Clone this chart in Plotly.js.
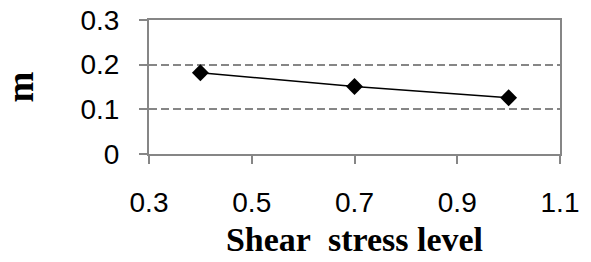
<!DOCTYPE html>
<html>
<head>
<meta charset="utf-8">
<script src="https://cdn.plot.ly/plotly-3.0.1.min.js"></script>
<style>html,body{margin:0;padding:0;background:#fff;}#chart{width:591px;height:262px;}</style>
</head>
<body>
<div id="chart"></div>
<script>
// Data
const shearStressLevel = [0.4, 0.7, 1.0];
const mValues = [0.182, 0.151, 0.126];
const xTickValues = [0.3, 0.5, 0.7, 0.9, 1.1];
const xTickLabels = ["0.3", "0.5", "0.7", "0.9", "1.1"];
const yTickValues = [0, 0.1, 0.2, 0.3];
const yTickLabels = ["0", "0.1", "0.2", "0.3"];
const xTitle = "Shear\u00a0\u00a0stress level";
const yTitle = "m";

const axisGray = "#868686";
const tickFont = {family: "Liberation Sans, Arial, sans-serif", size: 28, color: "#000"};
const titleFont = {family: "Liberation Serif, Times New Roman, serif", size: 34, color: "#000", weight: "bold"};

const trace = {
  x: shearStressLevel,
  y: mValues,
  type: "scatter",
  mode: "lines+markers",
  line: {color: "#000", width: 1.5},
  marker: {symbol: "diamond", size: 13, color: "#000"},
  showlegend: false,
  hoverinfo: "none"
};

const layout = {
  width: 591,
  height: 262,
  margin: {l: 149, r: 31, t: 20, b: 108},
  paper_bgcolor: "#fff",
  plot_bgcolor: "#fff",
  showlegend: false,
  xaxis: {
    range: [0.3, 1.1],
    tickvals: xTickValues,
    ticktext: xTickLabels,
    showgrid: false,
    zeroline: false,
    showline: true,
    linecolor: axisGray,
    linewidth: 2,
    mirror: true,
    ticks: "outside",
    ticklen: 8,
    tickwidth: 2,
    tickcolor: axisGray,
    tickfont: tickFont,
    ticklabelstandoff: 14,
    title: {text: xTitle, font: titleFont, standoff: 11}
  },
  yaxis: {
    range: [0, 0.3],
    tickvals: yTickValues,
    ticktext: yTickLabels,
    showgrid: true,
    gridcolor: axisGray,
    gridwidth: 2,
    griddash: "8px,4px",
    zeroline: false,
    showline: true,
    linecolor: axisGray,
    linewidth: 2,
    mirror: true,
    ticks: "outside",
    ticklen: 8,
    tickwidth: 2,
    tickcolor: axisGray,
    tickfont: tickFont,
    ticklabelstandoff: 14,
    title: {text: yTitle, font: Object.assign({}, titleFont, {size: 37}), standoff: 36}
  }
};

Plotly.newPlot("chart", [trace], layout, {staticPlot: true, displayModeBar: false});
</script>
</body>
</html>
